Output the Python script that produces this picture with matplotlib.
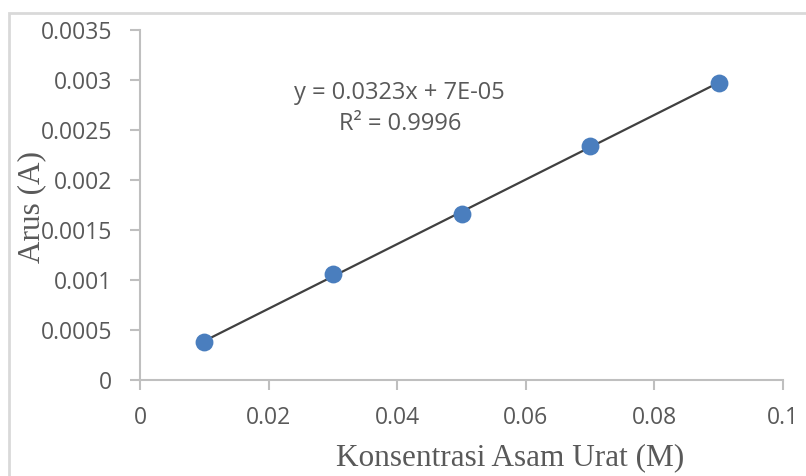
import numpy as np
import matplotlib.pyplot as plt
from matplotlib.patches import Rectangle

# data
konsentrasi = np.array([0.01, 0.03, 0.05, 0.07, 0.09])
arus = np.array([0.00038, 0.00106, 0.00166, 0.00234, 0.00297])
equation = 'y = 0.0323x + 7E-05'
r2_text = 'R² = 0.9996'
xticks = [0, 0.02, 0.04, 0.06, 0.08, 0.1]
xlabels = ['0', '0.02', '0.04', '0.06', '0.08', '0.1']
yticks = [0, 0.0005, 0.001, 0.0015, 0.002, 0.0025, 0.003, 0.0035]
ylabels = ['0', '0.0005', '0.001', '0.0015', '0.002', '0.0025', '0.003', '0.0035']

gray_txt = '#595959'
axis_col = '#bfbfbf'

fig = plt.figure(figsize=(8.06, 4.76), dpi=100)
ax = fig.add_axes([140 / 806, 1 - 380 / 476, (783 - 140) / 806, (380 - 30) / 476])

# outer chart border (only left/top visible in the reference)
fig.add_artist(Rectangle((9 / 806, -0.1), 1.2, 1 - 13 / 476 + 0.1, transform=fig.transFigure,
                         fill=False, edgecolor='#d9d9d9', lw=2))

# linear trendline over data range
coef = np.polyfit(konsentrasi, arus, 1)
xl = np.array([konsentrasi.min(), konsentrasi.max()])
ax.plot(xl, np.polyval(coef, xl), color='#404040', lw=1.6, zorder=2)
ax.scatter(konsentrasi, arus, s=165, color='#4a7ebe', zorder=3, linewidths=0)

ax.set_xlim(0, 0.1)
ax.set_ylim(0, 0.0035)
ax.set_xticks(xticks)
ax.set_xticklabels(xlabels)
ax.set_yticks(yticks)
ax.set_yticklabels(ylabels)

for s in ['top', 'right']:
    ax.spines[s].set_visible(False)
for s in ['left', 'bottom']:
    ax.spines[s].set_color(axis_col)
    ax.spines[s].set_linewidth(1.5)
ax.tick_params(axis='both', direction='out', length=7, width=1.5, color=axis_col,
               labelcolor=gray_txt, labelsize=16.5)
ax.tick_params(axis='x', pad=12)
ax.tick_params(axis='y', pad=13)
for lab in ax.get_xticklabels() + ax.get_yticklabels():
    lab.set_family('Open Sans')

# trendline label
ax.text(0.0404, 0.00287, equation, ha='center', va='center', fontsize=17,
        color=gray_txt, family='Open Sans')
ax.text(0.0404, 0.00256, r2_text, ha='center', va='center', fontsize=17,
        color=gray_txt, family='Open Sans')

fig.text(510 / 806, 1 - 458 / 476, 'Konsentrasi Asam Urat (M)', ha='center', va='center',
         fontsize=22.5, color=gray_txt, family='Liberation Serif')
fig.text(32 / 806, 1 - 207 / 476, 'Arus (A)', ha='center', va='center', rotation=90,
         fontsize=22.5, color=gray_txt, family='Liberation Serif')

fig.savefig('out.png', dpi=100)
